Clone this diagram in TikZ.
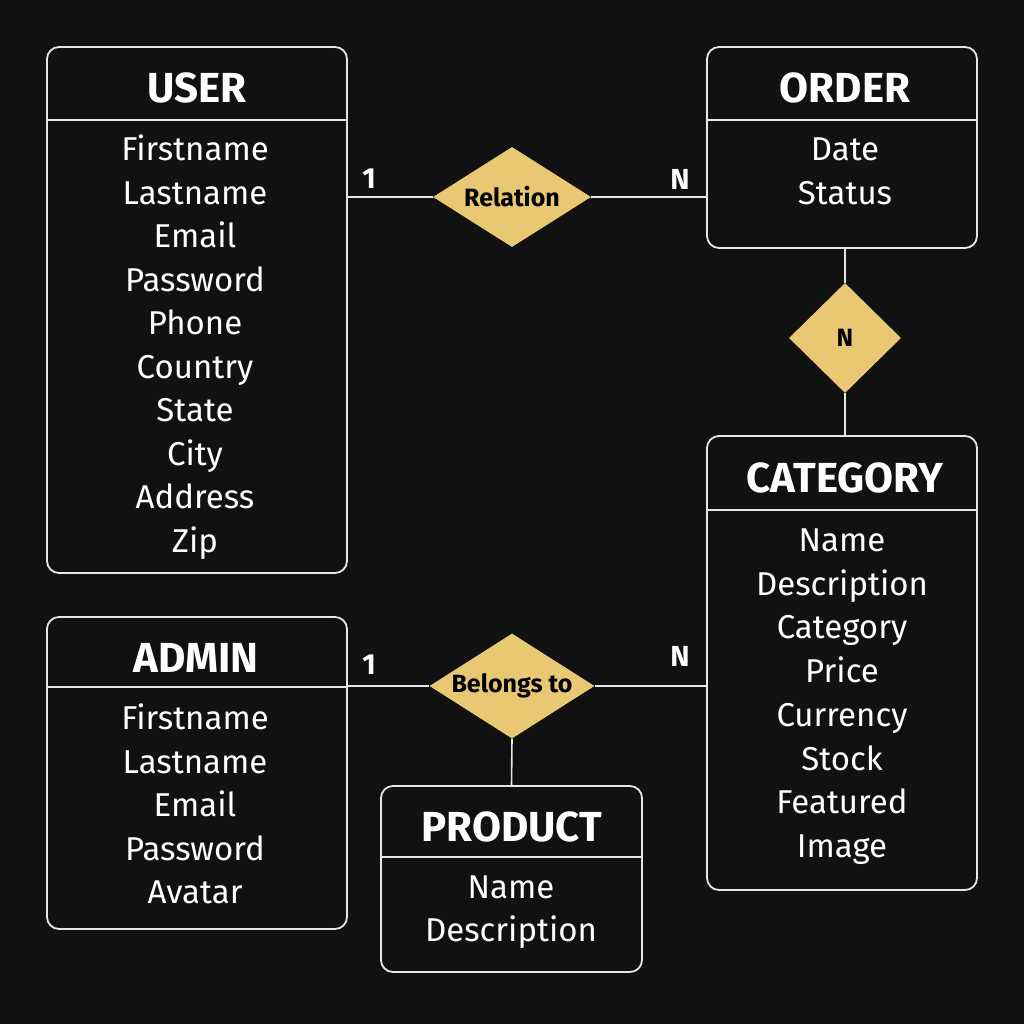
\documentclass[tikz,border=0pt]{standalone}
\usepackage{fontspec}
\setmainfont{Fira Sans}
\newfontfamily\titlefont{Fira Sans}
\usetikzlibrary{shapes.geometric}
\definecolor{bgc}{HTML}{111111}
\definecolor{linec}{HTML}{E6E6E6}
\definecolor{diac}{HTML}{E8C872}
\tikzset{
  ent/.style={draw=linec, line width=1.8pt, rounded corners=12pt, inner sep=0pt},
  sep/.style={draw=linec, line width=1.6pt},
  conn/.style={draw=linec, line width=1.6pt},
  ttl/.style={text=white, font=\titlefont\bfseries\fontsize{42}{44}\selectfont, inner sep=0pt, text height=30pt, text depth=0pt},
  attr/.style={text=white, font=\fontsize{33}{35}\selectfont, inner sep=0pt, anchor=center, text height=23pt, text depth=0pt},
  rel/.style={diamond, fill=diac, inner sep=0pt, font=\bfseries\fontsize{25}{27}\selectfont, text=black},
  card/.style={text=white, font=\bfseries\fontsize{29}{31}\selectfont, inner sep=0pt, text height=20pt, text depth=0pt},
}
\begin{document}
\begin{tikzpicture}[x=1pt,y=-1pt]
\fill[bgc] (0,0) rectangle (1024,1024);
\useasboundingbox (0,0) rectangle (1024,1024);

% USER
\node[ent, minimum width=300pt, minimum height=526pt] (user) at (197,310) {};
\draw[sep] (47,120) -- (347,120);
\node[ttl] (userT) at (197,88) {USER};
\foreach \t [count=\i] in {Firstname,Lastname,Email,Password,Phone,Country,State,City,Address,Zip}
  \node[attr] (userA\i) at (195,149+43.55*\i-43.55) {\t};

% ORDER
\node[ent, minimum width=270pt, minimum height=201pt] (order) at (842,147.5) {};
\draw[sep] (707,120) -- (977,120);
\node[ttl] (orderT) at (845,88) {ORDER};
\node[attr] (orderA1) at (845,149) {Date};
\node[attr] (orderA2) at (845,193) {Status};

% CATEGORY
\node[ent, minimum width=270pt, minimum height=454pt] (cat) at (842,663) {};
\draw[sep] (707,510) -- (977,510);
\node[ttl] (catT) at (845,477) {CATEGORY};
\foreach \t [count=\i] in {Name,Description,Category,Price,Currency,Stock,Featured,Image}
  \node[attr] (catA\i) at (842,540+43.7*\i-43.7) {\t};

% ADMIN
\node[ent, minimum width=300pt, minimum height=312pt] (admin) at (197,773) {};
\draw[sep] (47,687) -- (347,687);
\node[ttl] (adminT) at (196,657) {ADMIN};
\foreach \t [count=\i] in {Firstname,Lastname,Email,Password,Avatar}
  \node[attr] (adminA\i) at (195,718+43.5*\i-43.5) {\t};

% PRODUCT
\node[ent, minimum width=261pt, minimum height=186pt] (prod) at (511.5,879) {};
\draw[sep] (381,857) -- (642,857);
\node[ttl] (prodT) at (512,826) {PRODUCT};
\node[attr] (prodA1) at (511,887) {Name};
\node[attr] (prodA2) at (511,930) {Description};

% Relationships
\node[rel, minimum width=158pt, minimum height=100pt, aspect=1.58] (relR) at (512,197) {Relation};
\node[rel, minimum width=112pt, minimum height=110pt, aspect=1] (relN) at (845,338) {N};
\node[rel, minimum width=165pt, minimum height=105pt, aspect=1.57] (relB) at (512,686) {Belongs to};

\coordinate (uR) at (347,197);
\coordinate (oL) at (707,197);
\draw[conn] (uR) -- (relR.west);
\draw[conn] (relR.east) -- (oL);
\draw[conn] (order.south -| relN.north) -- (relN.north);
\draw[conn] (relN.south) -- (cat.north -| relN.south);
\coordinate (aR) at (347,686);
\coordinate (cL) at (707,686);
\draw[conn] (aR) -- (relB.west);
\draw[conn] (relB.east) -- (cL);
\draw[conn] (relB.south) -- (prod.north);

\node[card] (c1) at (369,179) {1};
\node[card] (c2) at (680,180) {N};
\node[card] (c3) at (369,664) {1};
\node[card] (c4) at (680,656) {N};
\end{tikzpicture}
\end{document}
